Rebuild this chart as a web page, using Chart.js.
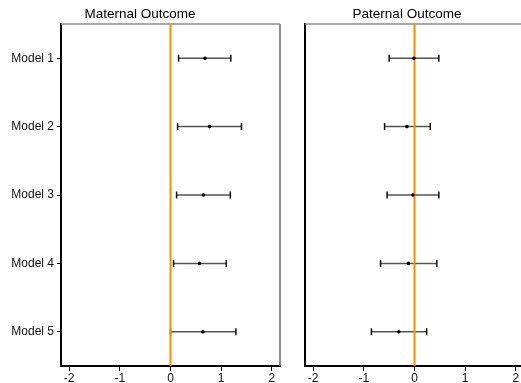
<!DOCTYPE html>
<html>
<head>
<meta charset="utf-8">
<script src="https://cdn.jsdelivr.net/npm/chart.js@4"></script>
<style>
  html, body { margin: 0; padding: 0; background: #fff; overflow: hidden; }
  body { width: 521px; height: 383px; position: relative; }
  canvas { position: absolute; top: 0; }
  #links { left: 0; }
  #rechts { left: 290px; }
</style>
</head>
<body>
<canvas id="links" width="290" height="383"></canvas>
<canvas id="rechts" width="240" height="383"></canvas>
<script>
const MODELLEN = ['Model 1', 'Model 2', 'Model 3', 'Model 4', 'Model 5'];
const X_TICKS = [-2, -1, 0, 1, 2];

const MOEDER_SCHATTING = [0.68, 0.77, 0.65, 0.57, 0.64];
const MOEDER_ONDER = [0.16, 0.14, 0.12, 0.06, 0.00];
const MOEDER_BOVEN = [1.19, 1.40, 1.18, 1.10, 1.29];

const VADER_SCHATTING = [-0.01, -0.15, -0.03, -0.12, -0.31];
const VADER_ONDER = [-0.50, -0.59, -0.54, -0.67, -0.85];
const VADER_BOVEN = [0.48, 0.31, 0.48, 0.44, 0.24];

const FONT = "'Liberation Sans', Arial, Helvetica, sans-serif";
const ORANJE = '#FF8C00';

Chart.defaults.font.family = FONT;
Chart.defaults.color = '#111';

function foutbalkPlugin(onder, boven) {
  return {
    id: 'foutbalken',
    beforeDatasetsDraw(chart) {
      const { ctx, chartArea, scales: { x, y } } = chart;
      ctx.save();
      // kader boven en rechts in grijs
      ctx.lineWidth = 1.5;
      ctx.strokeStyle = '#8a8a8a';
      ctx.beginPath();
      ctx.moveTo(chartArea.left, chartArea.top);
      ctx.lineTo(chartArea.right, chartArea.top);
      ctx.stroke();
      ctx.strokeStyle = '#666';
      ctx.beginPath();
      ctx.moveTo(chartArea.right, chartArea.top);
      ctx.lineTo(chartArea.right, chartArea.bottom);
      ctx.stroke();

      onder.forEach((lo, i) => {
        const py = y.getPixelForValue(i + 1);
        const x1 = x.getPixelForValue(lo);
        const x2 = x.getPixelForValue(boven[i]);
        ctx.strokeStyle = '#555';
        ctx.lineWidth = 1.5;
        ctx.beginPath();
        ctx.moveTo(x1, py);
        ctx.lineTo(x2, py);
        ctx.stroke();
        ctx.strokeStyle = '#111';
        ctx.beginPath();
        ctx.moveTo(x1, py - 3.5);
        ctx.lineTo(x1, py + 3.5);
        ctx.moveTo(x2, py - 3.5);
        ctx.lineTo(x2, py + 3.5);
        ctx.stroke();
      });

      const nul = x.getPixelForValue(0);
      ctx.strokeStyle = ORANJE;
      ctx.lineWidth = 2;
      ctx.beginPath();
      ctx.moveTo(nul, chartArea.top);
      ctx.lineTo(nul, chartArea.bottom);
      ctx.stroke();
      ctx.restore();
    }
  };
}

function maakPaneel(id, titel, schatting, onder, boven, metLabels, yBreedte, padRechts) {
  return new Chart(document.getElementById(id), {
    type: 'scatter',
    data: {
      datasets: [{
        data: schatting.map((v, i) => ({ x: v, y: i + 1 })),
        backgroundColor: '#000',
        borderColor: '#000',
        borderWidth: 0,
        pointRadius: 1.8,
        pointHoverRadius: 1.8,
      }]
    },
    options: {
      responsive: false,
      animation: false,
      layout: { padding: { left: 0, right: padRechts, top: 0, bottom: 0 } },
      plugins: {
        legend: { display: false },
        tooltip: { enabled: false },
        title: {
          display: true,
          text: titel,
          color: '#000',
          font: { size: 13.5, weight: 'normal' },
          padding: { top: 6.5, bottom: 1.3 }
        }
      },
      scales: {
        x: {
          type: 'linear',
          min: -2.16,
          max: 2.16,
          afterBuildTicks: s => { s.ticks = X_TICKS.map(v => ({ value: v })); },
          afterFit: s => { s.height = 17; },
          ticks: { color: '#111', font: { size: 12 }, padding: 0, maxRotation: 0 },
          grid: { drawOnChartArea: false, drawTicks: true, tickLength: 5, tickColor: '#000', tickWidth: 1 },
          border: { display: true, color: '#000', width: 2 }
        },
        y: {
          type: 'linear',
          reverse: true,
          min: 0.5,
          max: 5.5,
          afterBuildTicks: s => { s.ticks = MODELLEN.map((m, i) => ({ value: i + 1 })); },
          afterFit: s => { s.width = yBreedte; },
          ticks: {
            display: metLabels,
            color: '#111',
            font: { size: 12 },
            padding: 3,
            callback: v => MODELLEN[v - 1]
          },
          grid: { drawOnChartArea: false, drawTicks: metLabels, tickLength: 4, tickColor: '#000', tickWidth: 1 },
          border: { display: true, color: '#000', width: 2 }
        }
      }
    },
    plugins: [foutbalkPlugin(onder, boven)]
  });
}

maakPaneel('links', 'Maternal Outcome', MOEDER_SCHATTING, MOEDER_ONDER, MOEDER_BOVEN, true, 61, 10);
maakPaneel('rechts', 'Paternal Outcome', VADER_SCHATTING, VADER_ONDER, VADER_BOVEN, false, 15, 6);
</script>
</body>
</html>
